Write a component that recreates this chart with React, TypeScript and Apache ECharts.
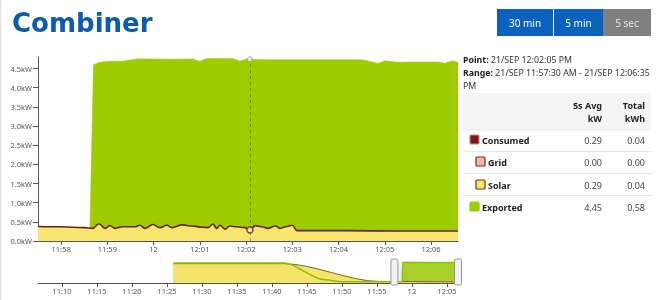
import React, { useEffect, useRef } from 'react';
import * as echarts from 'echarts';

// times are seconds since midnight (21/SEP)
const consumedTimes = [43050, 43080, 43110, 43121, 43129, 43137, 43143, 43150, 43160, 43176, 43182, 43189, 43199, 43208, 43217, 43224, 43237, 43250, 43263, 43271, 43277, 43282, 43286, 43293, 43299, 43308, 43318, 43325, 43332, 43341, 43348, 43358, 43364, 43373, 43380, 43386, 43450, 43520, 43595];
const consumedKW = [0.38, 0.37, 0.35, 0.33, 0.45, 0.33, 0.40, 0.33, 0.37, 0.37, 0.41, 0.33, 0.43, 0.35, 0.41, 0.35, 0.42, 0.39, 0.36, 0.35, 0.44, 0.33, 0.41, 0.31, 0.39, 0.37, 0.35, 0.29, 0.40, 0.37, 0.33, 0.39, 0.33, 0.38, 0.41, 0.27, 0.27, 0.26, 0.26];

const productionTimes = [43050, 43117, 43122, 43130, 43140, 43160, 43169, 43178, 43200, 43225, 43251, 43260, 43269, 43290, 43303, 43312, 43321, 43325, 43345, 43400, 43440, 43470, 43480, 43491, 43500, 43517, 43530, 43569, 43578, 43587, 43595];
const productionKW = [0, 0, 4.60, 4.66, 4.69, 4.69, 4.72, 4.75, 4.75, 4.74, 4.75, 4.69, 4.76, 4.76, 4.76, 4.69, 4.75, 4.74, 4.73, 4.73, 4.73, 4.73, 4.69, 4.63, 4.70, 4.66, 4.67, 4.67, 4.64, 4.70, 4.66];

const navConsumedTimes = [41157, 42105, 42915, 43121, 43386, 43595];
const navConsumedKW = [4.42, 4.42, 0.36, 0.34, 0.27, 0.27];
const navProductionTimes = [41157, 42105, 42450, 42600, 43116, 43122, 43595];
const navProductionKW = [4.58, 4.58, 0.75, 0.30, 0.30, 4.72, 4.70];

const yTicks = [0, 0.5, 1, 1.5, 2, 2.5, 3, 3.5, 4, 4.5];
const mainTicks = [43080, 43140, 43200, 43260, 43320, 43380, 43440, 43500, 43560];
const navTicks = [40200, 40500, 40800, 41100, 41400, 41700, 42000, 42300, 42600, 42900, 43200, 43500];

const rangeStart = 43050; // 11:57:30
const rangeEnd = 43595; // 12:06:35
const pointTime = 43325; // 12:02:05
const pointConsumed = 0.29;
const pointProduction = 4.74;

const tableRows = ['Consumed', 'Grid', 'Solar', 'Exported'];
const tableAvg = ['0.29', '0.00', '0.29', '4.45'];
const tableTotal = ['0.04', '0.00', '0.04', '0.58'];

const GREEN = '#9dcc00';
const YELLOW = '#f8e66e';
const BROWN = '#6e1f12';
const FONT = '"Noto Sans"';

const zip = (a: number[], b: number[]) => a.map((t, i) => [t, b[i]]);

const fmtTime = (t: number) => {
  const h = Math.floor(t / 3600);
  const m = Math.round((t % 3600) / 60);
  if (m === 0) return String(h);
  return h + ':' + String(m).padStart(2, '0');
};

const txt = (x: number, y: number, text: string, o: any = {}) => ({
  type: 'text',
  x,
  y,
  silent: true,
  style: {
    text,
    fill: o.fill || '#333',
    font: `${o.bold ? 'bold ' : ''}${o.size || 9}px ${o.family || FONT}`,
    align: o.align || 'left',
    verticalAlign: 'middle',
    rich: o.rich,
  },
});

export default function App() {
  const ref = useRef<HTMLDivElement>(null);
  useEffect(() => {
    const chart = echarts.init(ref.current!, null, { renderer: 'svg' });
    const option: any = {
      animation: false,
      grid: [
        { left: 38, top: 57, width: 420, height: 184 },
        { left: 38, top: 262, width: 420, height: 21 },
      ],
      xAxis: [
        {
          type: 'value', gridIndex: 0, min: rangeStart, max: rangeEnd,
          axisLine: { lineStyle: { color: '#555', width: 1 } },
          axisTick: { length: 4, lineStyle: { color: '#555' }, customValues: mainTicks },
          axisLabel: { customValues: mainTicks, formatter: (v: number) => fmtTime(v), fontSize: 7.5, color: '#555', margin: 4, fontFamily: 'Noto Sans' },
          splitLine: { show: false },
        },
        {
          type: 'value', gridIndex: 1, min: rangeEnd - 3600, max: rangeEnd,
          axisLine: { lineStyle: { color: '#555', width: 1 } },
          axisTick: { length: 4, lineStyle: { color: '#555' }, customValues: navTicks },
          axisLabel: { customValues: navTicks, formatter: (v: number) => fmtTime(v), fontSize: 7.5, color: '#555', margin: 4, fontFamily: 'Noto Sans' },
          splitLine: { show: false },
        },
      ],
      yAxis: [
        {
          type: 'value', gridIndex: 0, min: 0, max: 4.8,
          axisLine: { show: true, lineStyle: { color: '#555', width: 1 } },
          axisTick: { show: true, length: 5, lineStyle: { color: '#555' }, customValues: yTicks },
          axisLabel: { customValues: yTicks, formatter: (v: number) => v.toFixed(1) + 'kW', fontSize: 7.5, color: '#555', margin: 6, fontFamily: 'Noto Sans' },
          splitLine: { show: false },
        },
        { type: 'value', gridIndex: 1, min: 0, max: 4.8, show: false },
      ],
      series: [
        {
          type: 'line', xAxisIndex: 0, yAxisIndex: 0, data: zip(productionTimes, productionKW),
          showSymbol: false, silent: true, lineStyle: { width: 0.5, color: GREEN },
          areaStyle: { color: GREEN, opacity: 1 }, z: 1,
          markLine: {
            silent: true, symbol: 'none', label: { show: false },
            lineStyle: { type: [3, 3], color: 'rgba(70,80,40,0.5)', width: 1 },
            data: [{ xAxis: pointTime }],
          },
        },
        {
          type: 'line', xAxisIndex: 0, yAxisIndex: 0, data: zip(consumedTimes, consumedKW),
          showSymbol: false, silent: true, smooth: 0.4, smoothMonotone: 'x',
          lineStyle: { width: 1.6, color: BROWN },
          areaStyle: { color: YELLOW, opacity: 1 }, z: 2,
        },
        {
          type: 'scatter', xAxisIndex: 0, yAxisIndex: 0, silent: true, z: 5,
          data: [[pointTime, pointConsumed]], symbolSize: 6,
          itemStyle: { color: '#fff', borderColor: BROWN, borderWidth: 1.5 },
        },
        {
          type: 'scatter', xAxisIndex: 0, yAxisIndex: 0, silent: true, z: 5,
          data: [[pointTime, pointProduction]], symbolSize: 5,
          itemStyle: { color: '#f4f4f4', borderColor: '#8a9a50', borderWidth: 1 },
        },
        {
          type: 'line', xAxisIndex: 1, yAxisIndex: 1, data: zip(navProductionTimes, navProductionKW),
          showSymbol: false, silent: true, smooth: 0.3, smoothMonotone: 'x',
          lineStyle: { width: 0 }, areaStyle: { color: '#a6cf2a', opacity: 1 }, z: 1,
          markArea: {
            silent: true,
            itemStyle: { color: 'rgba(200,200,200,0.25)' },
            data: [[{ xAxis: rangeStart }, { xAxis: rangeEnd }]],
          },
        },
        {
          type: 'line', xAxisIndex: 1, yAxisIndex: 1, data: zip(navConsumedTimes, navConsumedKW),
          showSymbol: false, silent: true, smooth: 0.3, smoothMonotone: 'x',
          lineStyle: { width: 1, color: '#8a5a2a' }, areaStyle: { color: '#f5e46a', opacity: 1 }, z: 2,
        },
        {
          type: 'line', xAxisIndex: 1, yAxisIndex: 1, data: zip(navProductionTimes, navProductionKW),
          showSymbol: false, silent: true, smooth: 0.3, smoothMonotone: 'x',
          lineStyle: { width: 1.5, color: '#8fc000' }, z: 3,
        },
      ],
    };
    chart.setOption(option);

    const hx1 = chart.convertToPixel({ xAxisIndex: 1 } as any, rangeStart) as unknown as number;
    const hx2 = chart.convertToPixel({ xAxisIndex: 1 } as any, rangeEnd) as unknown as number;

    const handle = (cx: number) => ({
      type: 'rect', silent: true, z: 100,
      shape: { x: cx - 3.5, y: 259, width: 7, height: 26, r: 1.5 },
      style: { fill: '#f2f2f2', stroke: '#999', lineWidth: 1 },
    });

    const rowY = [140, 162, 185, 207];
    const rowIndent = [0, 6, 6, 0];
    const squareStyle = [
      { fill: '#7a1818', stroke: '#c48b80' },
      { fill: '#f2b9aa', stroke: '#7a2a1a' },
      { fill: '#fde56b', stroke: '#7a2a1a' },
      { fill: GREEN, stroke: GREEN },
    ];
    const bRich = { b: { fontWeight: 'bold', fontSize: 8.8, fontFamily: 'Noto Sans', fill: '#222' } };

    const graphics: any[] = [
      { type: 'rect', silent: true, shape: { x: 0, y: 0, width: 1.5, height: 300 }, style: { fill: '#e6e6e6' } },
      txt(12, 23, 'Combiner', { bold: true, size: 26, fill: '#0b5cad', family: '"DejaVu Sans"' }),
      { type: 'rect', silent: true, shape: { x: 497, y: 9, width: 56, height: 27 }, style: { fill: '#0b62bd' } },
      { type: 'rect', silent: true, shape: { x: 554, y: 9, width: 49, height: 27 }, style: { fill: '#0b62bd' } },
      { type: 'rect', silent: true, shape: { x: 603, y: 9, width: 48, height: 27 }, style: { fill: '#7f7f7f' } },
      txt(525, 22.5, '30 min', { fill: '#fff', size: 10, align: 'center' }),
      txt(578.5, 22.5, '5 min', { fill: '#fff', size: 10, align: 'center' }),
      txt(627, 22.5, '5 sec', { fill: '#e2e2e2', size: 10, align: 'center' }),
      txt(463, 60, '{b|Point:} 21/SEP 12:02:05 PM', { size: 8.8, fill: '#333', rich: bRich }),
      txt(463, 73, '{b|Range:} 21/SEP 11:57:30 AM - 21/SEP 12:06:35', { size: 8.8, fill: '#333', rich: bRich }),
      txt(463, 86, 'PM', { size: 8.8, fill: '#333' }),
      { type: 'rect', silent: true, shape: { x: 463, y: 93, width: 188, height: 37 }, style: { fill: '#f5f5f5' } },
      txt(602, 105, '5s Avg', { bold: true, size: 9, align: 'right', fill: '#222' }),
      txt(602, 118, 'kW', { bold: true, size: 9, align: 'right', fill: '#222' }),
      txt(645, 105, 'Total', { bold: true, size: 9, align: 'right', fill: '#222' }),
      txt(645, 118, 'kWh', { bold: true, size: 9, align: 'right', fill: '#222' }),
      ...[130, 151.5, 173.5, 195.5].map((y) => ({
        type: 'line', silent: true, shape: { x1: 463, y1: y, x2: 651, y2: y }, style: { stroke: '#e8e8e8', lineWidth: 1 },
      })),
      ...tableRows.flatMap((name, i) => [
        { type: 'rect', silent: true, shape: { x: 470 + rowIndent[i], y: rowY[i] - 5, width: 9, height: 9, r: 1 }, style: { ...squareStyle[i], lineWidth: 1.2 } },
        txt(482 + rowIndent[i], rowY[i], name, { bold: true, size: 9, fill: '#222' }),
        txt(602, rowY[i], tableAvg[i], { size: 9, align: 'right', fill: '#444' }),
        txt(645, rowY[i], tableTotal[i], { size: 9, align: 'right', fill: '#444' }),
      ]),
      handle(hx1),
      handle(hx2),
    ];
    chart.setOption({ graphic: graphics });
    return () => chart.dispose();
  }, []);
  return <div ref={ref} style={{ position: 'fixed', left: 0, top: 0, width: 661, height: 300 }} />;
}
